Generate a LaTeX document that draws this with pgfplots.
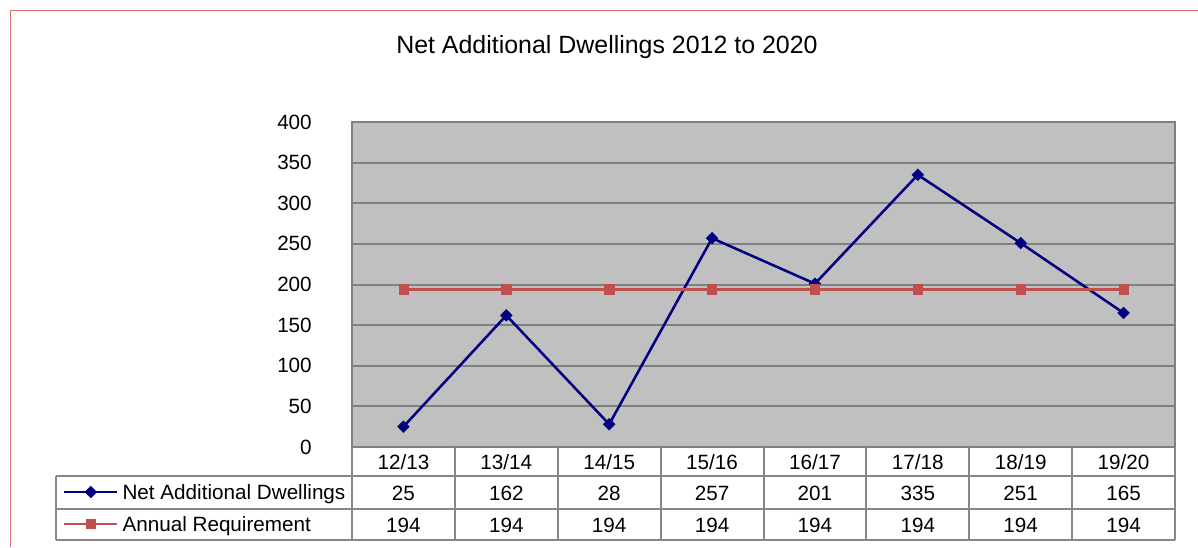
\documentclass[border=0pt]{standalone}
\usepackage{fontspec}
\setmainfont{Liberation Sans}
\usepackage{pgfplots}
\usepackage{pgfplotstable}
\pgfplotsset{compat=1.18}
\definecolor{navy}{RGB}{0,0,128}
\definecolor{exred}{RGB}{192,80,77}
\definecolor{plotbg}{RGB}{192,192,192}
\definecolor{gridgray}{RGB}{128,128,128}
\definecolor{tablegray}{RGB}{134,134,134}
\definecolor{borderred}{RGB}{224,112,112}

\pgfplotstableread{
x lab net req
0 12/13 25 194
1 13/14 162 194
2 14/15 28 194
3 15/16 257 194
4 16/17 201 194
5 17/18 335 194
6 18/19 251 194
7 19/20 165 194
}\data

\begin{document}
\fontsize{15.5}{18}\selectfont
\begin{tikzpicture}
\begin{axis}[
  at={(264pt,-335.25pt)}, anchor=south west,
  scale only axis, width=617.25pt, height=243.75pt,
  xmin=-0.5, xmax=7.5, ymin=0, ymax=400,
  xtick=\empty, ytick={0,50,...,400},
  major tick length=0pt,
  ymajorgrids, grid style={gridgray, line width=1.5pt},
  axis line style={gridgray, line width=1.75pt},
  axis background/.style={fill=plotbg},
  clip=false,
  /pgf/number format/assume math mode=true,
  yticklabel style={anchor=east, inner sep=0pt, xshift=-30pt, font=\fontsize{15.5}{18}\selectfont},
  title={Net Additional Dwellings 2012 to 2020},
  title style={at={(axis description cs:0.3098,1.1877)}, anchor=base, inner sep=0pt, font=\fontsize{18.7}{22}\selectfont},
  legend cell align=left,
  legend style={at={(axis description cs:-0.35115,-0.089231)}, anchor=north west,
    draw=none, fill=none, inner sep=0pt, outer sep=0pt, row sep=0pt, column sep=3pt,
    font=\fontsize{15.5}{18}\selectfont,
    nodes={inner sep=0pt, text height=11.1pt, text depth=0pt, minimum height=24pt}},
  legend image code/.code={\draw[mark repeat=2, mark phase=2] plot coordinates {(0pt,0pt) (19.875pt,0pt) (39.75pt,0pt)};},
]
\addplot[navy, line width=1.9pt, mark=square*, mark size=3.1pt,
  mark options={solid, rotate=45, fill=navy, line width=0.4pt}]
  table[x=x, y=net] {\data};
\addlegendentry{Net Additional Dwellings}
\addplot[exred, line width=1.9pt, mark=square*, mark size=3.5pt,
  mark options={solid, fill=exred, line width=0.4pt}]
  table[x=x, y=req] {\data};
\addlegendentry{Annual Requirement}
% table text
\addplot[forget plot, draw=none, mark=none, point meta=explicit symbolic,
  nodes near coords={\pgfplotspointmeta},
  every node near coord/.append style={anchor=base, inner sep=0pt, text=black, font=\fontsize{15.5}{18}\selectfont}]
  table[x=x, y expr=-27.08, meta=lab] {\data};
\addplot[forget plot, draw=none, mark=none, point meta=explicit symbolic,
  nodes near coords={\pgfplotspointmeta},
  every node near coord/.append style={anchor=base, inner sep=0pt, text=black, font=\fontsize{15.5}{18}\selectfont}]
  table[x=x, y expr=-65.23, meta=net] {\data};
\addplot[forget plot, draw=none, mark=none, point meta=explicit symbolic,
  nodes near coords={\pgfplotspointmeta},
  every node near coord/.append style={anchor=base, inner sep=0pt, text=black, font=\fontsize{15.5}{18}\selectfont}]
  table[x=x, y expr=-104.62, meta=req] {\data};
\end{axis}
% table grid
\foreach \k in {0,...,8}
  \draw[tablegray, line width=1.5pt] ({264pt+\k*77.15625pt},-335.25pt) -- ({264pt+\k*77.15625pt},-405pt);
\draw[tablegray, line width=1.5pt] (42pt,-357pt) -- (881.25pt,-357pt);
\draw[tablegray, line width=1.5pt] (42pt,-381.75pt) -- (881.25pt,-381.75pt);
\draw[tablegray, line width=1.5pt] (42pt,-405pt) -- (881.25pt,-405pt);
\draw[tablegray, line width=1.5pt] (42pt,-357pt) -- (42pt,-405pt);
% outer border
\draw[borderred, line width=0.75pt] (7.9pt,-410.25pt) -- (7.9pt,-7.9pt) -- (898.5pt,-7.9pt);
\pgfresetboundingbox
\useasboundingbox (0pt,0pt) rectangle (898.5pt,-410.25pt);
\end{tikzpicture}
\end{document}
